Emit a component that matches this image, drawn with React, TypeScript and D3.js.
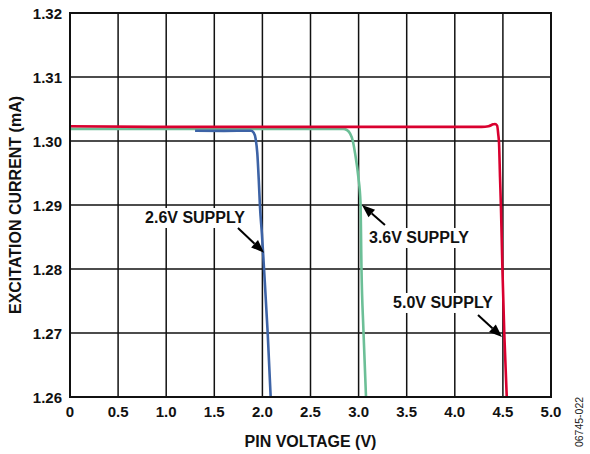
import React from "react";
import * as d3 from "d3";

const xTicks = [0, 0.5, 1.0, 1.5, 2.0, 2.5, 3.0, 3.5, 4.0, 4.5, 5.0];
const xTickLabels = ["0", "0.5", "1.0", "1.5", "2.0", "2.5", "3.0", "3.5", "4.0", "4.5", "5.0"];
const yTicks = [1.26, 1.27, 1.28, 1.29, 1.3, 1.31, 1.32];
const yTickLabels = ["1.26", "1.27", "1.28", "1.29", "1.30", "1.31", "1.32"];

// 2.6V supply (blue)
const blueV = [1.3, 1.6, 1.88, 1.91, 1.93, 1.947, 1.962, 1.975, 1.995, 2.017, 2.055, 2.086];
const blueI = [1.3016, 1.30158, 1.3016, 1.3013, 1.3003, 1.2981, 1.294, 1.2897, 1.2855, 1.28, 1.27, 1.26];

// 3.6V supply (green)
const greenV = [0, 1.0, 2.0, 2.84, 2.88, 2.91, 2.94, 2.963, 2.997, 3.02, 3.03, 3.05, 3.077];
const greenI = [1.3019, 1.3019, 1.3019, 1.3019, 1.3017, 1.3012, 1.3, 1.2981, 1.2944, 1.2903, 1.28, 1.2705, 1.26];

// 5.0V supply (red)
const redV = [0, 1.0, 2.0, 3.0, 4.28, 4.35, 4.4, 4.418, 4.44, 4.452, 4.46, 4.47, 4.48, 4.495, 4.515, 4.54];
const redI = [1.3023, 1.3022, 1.3022, 1.3022, 1.3022, 1.3023, 1.3026, 1.30266, 1.3024, 1.301, 1.2996, 1.2944, 1.2895, 1.28, 1.2697, 1.26];

const labelTexts = ["2.6V SUPPLY", "3.6V SUPPLY", "5.0V SUPPLY"];
const labelV = [0.78, 3.108, 3.358];
const labelI = [1.28719, 1.28406, 1.27391];
const arrowFromV = [1.746, 3.274, 4.241];
const arrowFromI = [1.2864, 1.28688, 1.27281];
const arrowToV = [2.017, 3.035, 4.491];
const arrowToI = [1.28255, 1.29, 1.26938];

const FONT = "'Liberation Sans', Arial, Helvetica, sans-serif";

export default function App() {
  const W = 590, H = 454;
  const x = d3.scaleLinear().domain([0, 5]).range([70, 551]);
  const y = d3.scaleLinear().domain([1.26, 1.32]).range([397, 13]);

  const line = d3
    .line<[number, number]>()
    .x((d) => x(d[0]))
    .y((d) => y(d[1]))
    .curve(d3.curveMonotoneX);

  const series = [
    { v: greenV, i: greenI, color: "#6cbf97" },
    { v: blueV, i: blueI, color: "#3d63a6" },
    { v: redV, i: redI, color: "#d9002f" },
  ];

  const [x0, x1] = x.range();
  const [y0, y1] = y.range();

  const arrows = labelTexts.map((t, k) => {
    const fx = x(arrowFromV[k]), fy = y(arrowFromI[k]);
    const tx = x(arrowToV[k]), ty = y(arrowToI[k]);
    const ang = Math.atan2(ty - fy, tx - fx);
    const hl = 13, hw = 5;
    const bx = tx - hl * Math.cos(ang), by = ty - hl * Math.sin(ang);
    const px = -Math.sin(ang) * hw, py = Math.cos(ang) * hw;
    return { fx, fy, tx, ty, bx, by, px, py };
  });

  return (
    <svg width={W} height={H} style={{ position: "absolute", left: 0, top: 0, background: "#fff" }} fontFamily={FONT}>
      <rect x={0} y={0} width={W} height={H} fill="#fff" />
      {/* grid */}
      {xTicks.map((t, k) => (
        <line key={"gx" + k} x1={x(t)} x2={x(t)} y1={y1} y2={y0} stroke="#111" strokeWidth={1.5} />
      ))}
      {yTicks.map((t, k) => (
        <line key={"gy" + k} x1={x0} x2={x1} y1={y(t)} y2={y(t)} stroke="#111" strokeWidth={1.5} />
      ))}
      {/* label backgrounds */}
      {labelTexts.map((t, k) => (
        <rect key={"lb" + k} x={x(labelV[k]) - 3} y={y(labelI[k]) - 15} width={106} height={20} fill="#fff" />
      ))}
      {/* curves */}
      {series.map((s, k) => (
        <path
          key={"s" + k}
          d={line(s.v.map((v, j) => [v, s.i[j]] as [number, number])) || ""}
          fill="none"
          stroke={s.color}
          strokeWidth={2.6}
          strokeLinejoin="round"
        />
      ))}
      {/* frame */}
      <rect x={x0} y={y1} width={x1 - x0} height={y0 - y1} fill="none" stroke="#111" strokeWidth={2} />
      {/* annotations */}
      {labelTexts.map((t, k) => (
        <text key={"lt" + k} x={x(labelV[k])} y={y(labelI[k])} fontSize={16} fontWeight="bold" fill="#111">
          {t}
        </text>
      ))}
      {arrows.map((a, k) => (
        <g key={"ar" + k}>
          <line x1={a.fx} y1={a.fy} x2={a.bx} y2={a.by} stroke="#000" strokeWidth={2} />
          <polygon
            points={`${a.tx},${a.ty} ${a.bx + a.px},${a.by + a.py} ${a.bx - a.px},${a.by - a.py}`}
            fill="#000"
          />
        </g>
      ))}
      {/* tick labels */}
      {xTicks.map((t, k) => (
        <text key={"xl" + k} x={x(t)} y={417} textAnchor="middle" fontSize={15} fontWeight="bold" fill="#111">
          {xTickLabels[k]}
        </text>
      ))}
      {yTicks.map((t, k) => (
        <text key={"yl" + k} x={62} y={y(t) + 5.5} textAnchor="end" fontSize={15} fontWeight="bold" fill="#111">
          {yTickLabels[k]}
        </text>
      ))}
      {/* axis titles */}
      <text x={(x0 + x1) / 2} y={447} textAnchor="middle" fontSize={16} fontWeight="bold" fill="#111">
        PIN VOLTAGE (V)
      </text>
      <text
        transform={`translate(21,${(y0 + y1) / 2}) rotate(-90)`}
        textAnchor="middle"
        fontSize={16}
        fontWeight="bold"
        fill="#111"
      >
        EXCITATION CURRENT (mA)
      </text>
      <text transform={`translate(583,422) rotate(-90)`} textAnchor="middle" fontSize={10.5} fill="#222">
        06745-022
      </text>
    </svg>
  );
}
